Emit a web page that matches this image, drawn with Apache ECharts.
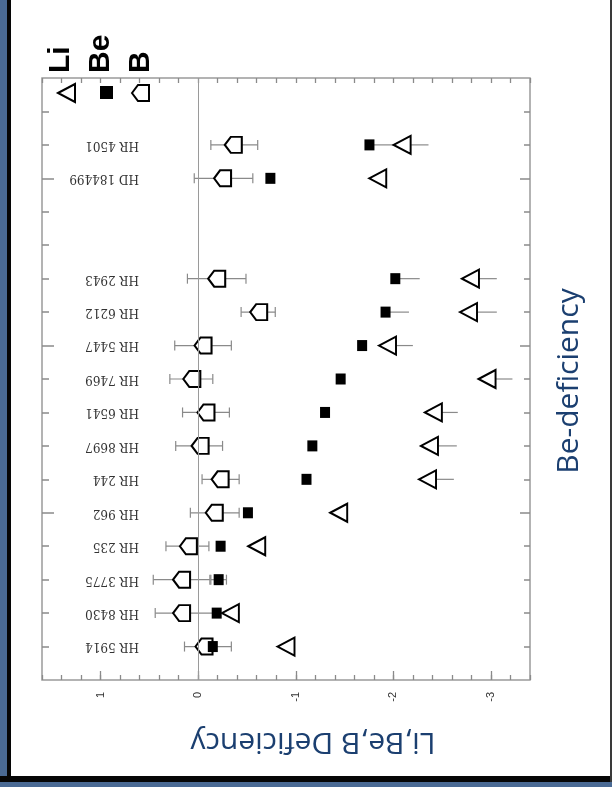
<!DOCTYPE html>
<html><head><meta charset="utf-8">
<script src="https://cdn.jsdelivr.net/npm/echarts@6/dist/echarts.min.js"></script>
<style>
html,body{margin:0;padding:0;background:#fff;}
#wrap{position:relative;width:612px;height:787px;overflow:hidden;background:#fff;}
#chart{position:absolute;left:0;top:0;width:612px;height:787px;}
.b{position:absolute;}
</style></head><body>
<div id="wrap">
<div id="chart"></div>
<div class="b" style="left:0;top:0;width:7px;height:787px;background:#4a6a94"></div>
<div class="b" style="left:7px;top:0;width:4px;height:781px;background:#060606"></div>
<div class="b" style="left:0;top:776px;width:612px;height:6px;background:#060606"></div>
<div class="b" style="left:0;top:782px;width:612px;height:5px;background:#4a6a94"></div>
<div class="b" style="left:610px;top:0;width:2px;height:782px;background:#3a3a3a"></div>
</div>
<script>
// ---- data (bottom row to top row) ----
const starNames = ['HR 5914','HR 8430','HR 3775','HR 235','HR 962','HR 244','HR 8697','HR 6541','HR 7469','HR 5447','HR 6212','HR 2943','HD 184499','HR 4501'];
const rowPos    = [1,2,3,4,5,6,7,8,9,10,11,12,15,16];
const liValues  = [-0.90,-0.33,null,-0.60,-1.44,-2.35,-2.37,-2.41,-2.96,-1.94,-2.77,-2.79,-1.84,-2.09];
const liUpper   = [null,null,null,null,null,-2.62,-2.65,-2.66,-3.22,-2.20,-3.06,-3.06,null,-2.36];
const beValues  = [-0.15,-0.19,-0.21,-0.23,-0.51,-1.11,-1.17,-1.30,-1.46,-1.68,-1.92,-2.02,-0.74,-1.755];
const beErrFrom = [null,null,-0.13,null,null,null,null,null,null,null,-1.92,-2.02,null,-1.755];
const beErrTo   = [null,null,-0.29,null,null,null,null,null,null,null,-2.16,-2.27,null,-2.05];
const beErrCap  = [0,0,1,0,0,0,0,0,0,0,0,0,0,0];
const bValues   = [-0.06,0.17,0.17,0.10,-0.165,-0.225,-0.02,-0.08,0.065,-0.05,-0.62,-0.19,-0.25,-0.36];
const bErrFrom  = [0.14,0.44,0.46,0.33,0.08,-0.04,0.23,0.16,0.29,0.24,-0.44,0.11,0.04,-0.13];
const bErrTo    = [-0.34,-0.15,-0.12,-0.11,-0.42,-0.42,-0.25,-0.32,-0.15,-0.34,-0.79,-0.49,-0.56,-0.61];
const valueTicks = [-3,-2,-1,0,1];
const rowTicks = [1,2,3,4,5,6,7,8,9,10,11,12,13,14,15,16,17];
const majorRowTicks = [5,10,15];
const legendNames = ['Li','Be','B'];

// ---- build ----
const triPath  = 'path://M0,9L17,0L17,18Z';
const pentPath = 'path://M0,8L6,0L17,0L17,16L6,16Z';
const nameAt = {};
rowPos.forEach((r,i)=>{ nameAt[r] = starNames[i]; });

function pts(vals){ const out=[]; vals.forEach((v,i)=>{ if(v!=null) out.push([v,rowPos[i]]); }); return out; }
function errs(from,to,cap){ const out=[]; from.forEach((f,i)=>{ if(f!=null && to[i]!=null) out.push([rowPos[i],f,to[i],typeof cap==='number'?cap:cap[i]]); }); return out; }

function errItem(params, api){
  const y = api.value(0);
  const p1 = api.coord([api.value(1), y]);
  const p2 = api.coord([api.value(2), y]);
  const style = {stroke:'#8a8a8a', lineWidth:1.2, fill:null};
  const ch = [{type:'line', shape:{x1:p1[0],y1:p1[1],x2:p2[0],y2:p2[1]}, style}];
  if (api.value(3)) {
    ch.push({type:'line', shape:{x1:p1[0],y1:p1[1]-5,x2:p1[0],y2:p1[1]+5}, style});
    ch.push({type:'line', shape:{x1:p2[0],y1:p2[1]-5,x2:p2[0],y2:p2[1]+5}, style});
  }
  return {type:'group', children:ch};
}

const gray = '#9a9a9a';
const tickGray = '#8a8a8a';
const baseX = {type:'value', min:-3.4, max:1.6, inverse:true, splitLine:{show:false}, axisLine:{show:false, onZero:false}};
const baseY = {type:'value', min:0, max:18, interval:1, splitLine:{show:false}, axisLine:{show:false, onZero:false}};

const chart = echarts.init(document.getElementById('chart'), null, {renderer:'canvas'});
chart.setOption({
  animation:false,
  backgroundColor:'#ffffff',
  grid:{left:42, right:82, top:78, bottom:107, show:true, borderColor:gray, borderWidth:1.5, containLabel:false, outerBoundsMode:'none'},
  xAxis:[
    Object.assign({}, baseX, {position:'bottom', interval:0.2, axisTick:{inside:true, length:5, lineStyle:{color:tickGray, width:1.3}}, axisLabel:{show:false}}),
    Object.assign({}, baseX, {position:'bottom',
      axisTick:{inside:true, length:9, customValues:valueTicks, lineStyle:{color:tickGray, width:1.3}},
      axisLabel:{customValues:valueTicks, rotate:90, margin:12, fontSize:11, color:'#333', fontFamily:'Liberation Sans', formatter:v=>String(v)},
      name:'Li,Be,B Deficiency', nameLocation:'middle', nameRotate:180, nameGap:47, nameMoveOverlap:false,
      nameTextStyle:{fontSize:30, fontFamily:'Open Sans', color:'#1b3f70', padding:[0,54,0,0]}}),
    Object.assign({}, baseX, {position:'top', interval:0.2, axisTick:{inside:true, length:5, lineStyle:{color:tickGray, width:1.3}}, axisLabel:{show:false}})
  ],
  yAxis:[
    Object.assign({}, baseY, {position:'left', axisTick:{inside:true, length:7, customValues:rowTicks, lineStyle:{color:tickGray, width:1.5}},
      axisLabel:{rotate:180, margin:-97, align:'left', verticalAlign:'middle', fontSize:12, color:'#333', fontFamily:'DejaVu Serif',
        customValues:rowPos, formatter:v=>nameAt[v]||''}}),
    Object.assign({}, baseY, {position:'left', axisTick:{inside:true, length:12, customValues:majorRowTicks, lineStyle:{color:tickGray, width:1.5}}, axisLabel:{show:false}}),
    Object.assign({}, baseY, {position:'right', axisTick:{inside:true, length:6, customValues:rowTicks, lineStyle:{color:tickGray, width:1.5}}, axisLabel:{show:false}}),
    Object.assign({}, baseY, {position:'right', axisTick:{inside:true, length:10, customValues:majorRowTicks, lineStyle:{color:tickGray, width:1.5}}, axisLabel:{show:false}})
  ],
  legend:[
    {data:[{name:'Li', icon:triPath}], left:57, top:83, padding:0, itemWidth:18, itemHeight:18, selectedMode:false, formatter:()=>''},
    {data:[{name:'Be', icon:'rect'}], left:100, top:86, padding:0, itemWidth:13, itemHeight:13, selectedMode:false, formatter:()=>''},
    {data:[{name:'B', icon:pentPath}], left:131, top:84, padding:0, itemWidth:18, itemHeight:16, selectedMode:false, formatter:()=>''}
  ],
  graphic:[
    {type:'text', x:60.5, y:73, rotation:Math.PI/2, style:{text:legendNames[0], font:'bold 30px "Liberation Sans"', fill:'#000', align:'left', verticalAlign:'middle'}},
    {type:'text', x:100.5, y:73, rotation:Math.PI/2, style:{text:legendNames[1], font:'bold 30px "Liberation Sans"', fill:'#000', align:'left', verticalAlign:'middle'}},
    {type:'text', x:141, y:73, rotation:Math.PI/2, style:{text:legendNames[2], font:'bold 30px "Liberation Sans"', fill:'#000', align:'left', verticalAlign:'middle'}},
    {type:'text', x:569, y:381, rotation:Math.PI/2, style:{text:'Be-deficiency', font:'30px "Open Sans"', fill:'#1b3f70', align:'center', verticalAlign:'middle'}}
  ],
  series:[
    {type:'custom', name:'B err', renderItem:errItem, data:errs(bErrFrom,bErrTo,1), encode:{x:[1,2], y:0}, z:1, silent:true,
      markLine:{silent:true, symbol:'none', label:{show:false}, lineStyle:{color:'#9a9a9a', type:'solid', width:1}, data:[{xAxis:0}]}},
    {type:'custom', name:'Be err', renderItem:errItem, data:errs(beErrFrom,beErrTo,beErrCap), encode:{x:[1,2], y:0}, z:1, silent:true},
    {type:'custom', name:'Li err', renderItem:errItem, data:errs(liValues,liUpper,0), encode:{x:[1,2], y:0}, z:1, silent:true},
    {type:'scatter', name:'B', data:pts(bValues), symbol:pentPath, symbolSize:[17,16], z:2,
      itemStyle:{color:'#fff', borderColor:'#000', borderWidth:2, opacity:1}},
    {type:'scatter', name:'Be', data:pts(beValues), symbol:'rect', symbolSize:[10,11], z:3,
      itemStyle:{color:'#000', borderColor:'#000', borderWidth:0, opacity:1}},
    {type:'scatter', name:'Li', data:pts(liValues), symbol:triPath, symbolSize:[17,18], z:4,
      itemStyle:{color:'#fff', borderColor:'#000', borderWidth:2, opacity:1}}
  ]
});
</script>
</body></html>
